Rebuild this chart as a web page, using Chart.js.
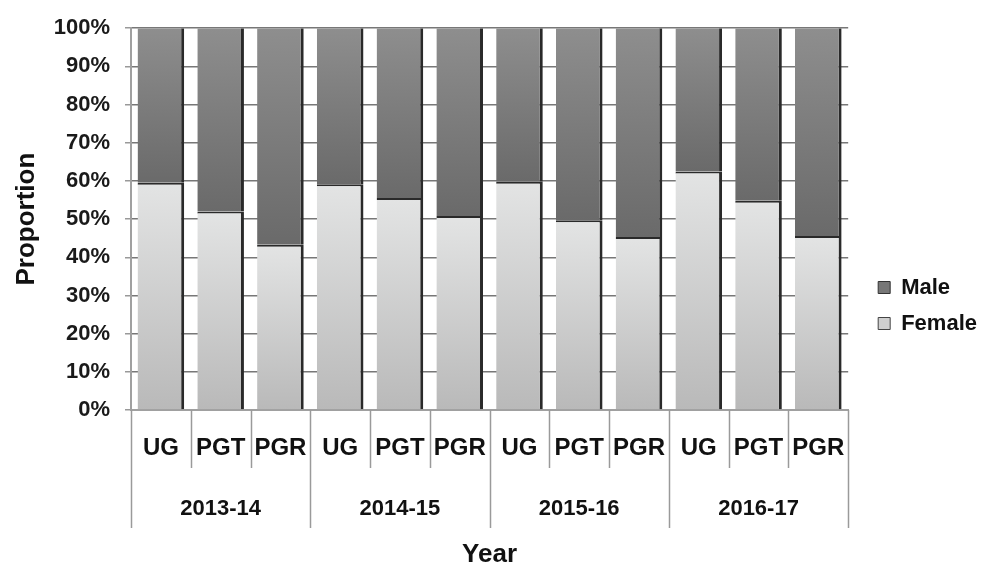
<!DOCTYPE html>
<html>
<head>
<meta charset="utf-8">
<script src="https://cdn.jsdelivr.net/npm/chart.js@4.4.0/dist/chart.umd.min.js"></script>
<style>
  body { margin: 0; background: #fff; }
  #wrap { width: 982px; height: 570px; position: relative; }
</style>
</head>
<body>
<div id="wrap"><canvas id="chart"></canvas></div>
<script>
// ── data ──
const levels = ['UG', 'PGT', 'PGR', 'UG', 'PGT', 'PGR', 'UG', 'PGT', 'PGR', 'UG', 'PGT', 'PGR'];
const years = ['2013-14', '2014-15', '2015-16', '2016-17'];
const female = [59.5, 52.0, 43.3, 59.1, 55.5, 50.8, 59.8, 49.7, 45.3, 62.5, 54.8, 45.6];
const male = [40.5, 48.0, 56.7, 40.9, 44.5, 49.2, 40.2, 50.3, 54.7, 37.5, 45.2, 54.4];
const yTicks = [0, 10, 20, 30, 40, 50, 60, 70, 80, 90, 100];

const FONT = '"Liberation Sans", Arial, sans-serif';

// vertical gradient for one bar segment, built from the y scale
function barGrad(ctx, lo, hi, top, bottom) {
  const chart = ctx.chart;
  const y = chart.scales.y;
  if (!chart.chartArea || !y) return bottom;
  const g = chart.ctx.createLinearGradient(0, y.getPixelForValue(hi), 0, y.getPixelForValue(lo));
  g.addColorStop(0, top);
  g.addColorStop(1, bottom);
  return g;
}

// separators under the x axis (short between levels, long between years)
const groupLines = {
  id: 'groupLines',
  afterDraw(chart) {
    const x = chart.scales.x;
    const area = chart.chartArea;
    const c = chart.ctx;
    const step = (x.right - x.left) / levels.length;
    c.save();
    c.strokeStyle = '#9a9a9a';
    c.lineWidth = 1.5;
    for (let i = 0; i <= levels.length; i++) {
      const px = Math.round(x.left + i * step) + 0.5;
      c.beginPath();
      c.moveTo(px, area.bottom);
      c.lineTo(px, i % 3 === 0 ? 528 : 468);
      c.stroke();
    }
    c.restore();
  }
};

new Chart(document.getElementById('chart'), {
  type: 'bar',
  plugins: [groupLines],
  data: {
    labels: levels,
    datasets: [
      {
        label: 'Female',
        data: female,
        backgroundColor: ctx => barGrad(ctx, 0, female[ctx.dataIndex] || 0, '#e3e4e4', '#b9b9b9'),
        borderColor: '#2a2a2a',
        borderWidth: { top: 2, right: 3, left: 0, bottom: 0 },
        borderSkipped: false,
        barPercentage: 1,
        categoryPercentage: 0.78,
      },
      {
        label: 'Male',
        data: male,
        backgroundColor: ctx => barGrad(ctx, female[ctx.dataIndex] || 0, 100, '#8e8e8e', '#6a6a6a'),
        borderColor: '#2a2a2a',
        borderWidth: { top: 0, right: 3, left: 0, bottom: 0 },
        borderSkipped: false,
        barPercentage: 1,
        categoryPercentage: 0.78,
      },
    ],
  },
  options: {
    responsive: true, maintainAspectRatio: false, animation: false,
    layout: { padding: { top: 17, right: -5, left: 0, bottom: 0 } },
    plugins: {
      tooltip: { enabled: false },
      legend: {
        position: 'right',
        reverse: true,
        title: { display: true, text: ' ', padding: 0, font: { size: 20 } },
        labels: {
          boxWidth: 12, boxHeight: 12, padding: 14, color: '#111',
          font: { family: FONT, size: 22, weight: 'bold' },
          generateLabels: () => [
            { text: 'Female', fillStyle: '#cfcfcf', strokeStyle: '#444', lineWidth: 1, fontColor: '#111', datasetIndex: 0 },
            { text: 'Male', fillStyle: '#777', strokeStyle: '#333', lineWidth: 1, fontColor: '#111', datasetIndex: 1 },
          ],
        },
      },
    },
    scales: {
      y: {
        stacked: true, min: 0, max: 100,
        afterBuildTicks: s => { s.ticks = yTicks.map(v => ({ value: v })); },
        afterFit: s => { s.width = 131; },
        ticks: { color: '#1a1a1a', padding: 15, font: { family: FONT, size: 22, weight: 'bold' }, callback: v => v + '%' },
        grid: { color: '#777', lineWidth: 1.5, tickLength: 6, tickColor: '#999' },
        border: { color: '#a0a0a0', width: 2 },
        title: { display: true, text: 'Proportion', color: '#111', padding: { top: 11, bottom: 0 }, font: { family: FONT, size: 26, weight: 'bold' } },
      },
      // spacer between the plot and the legend
      yR: {
        position: 'right', display: true,
        afterFit: s => { s.width = 16; },
        ticks: { display: false },
        grid: { display: false, drawTicks: false },
        border: { display: false },
      },
      x: {
        stacked: true,
        afterFit: s => { s.height = 65; },
        ticks: { color: '#111', padding: 24, maxRotation: 0, autoSkip: false, font: { family: FONT, size: 24, weight: 'bold' } },
        grid: { display: false, drawTicks: false },
        border: { color: '#a0a0a0', width: 2 },
      },
      x2: {
        type: 'category', position: 'bottom', labels: years,
        afterFit: s => { s.height = 95; },
        ticks: { color: '#111', padding: 21, maxRotation: 0, font: { family: FONT, size: 22, weight: 'bold' } },
        grid: { display: false, drawTicks: false },
        border: { display: false },
        title: { display: true, text: 'Year', color: '#111', padding: { top: 13, bottom: 0 }, font: { family: FONT, size: 26, weight: 'bold' } },
      },
    },
  },
});
</script>
</body>
</html>
